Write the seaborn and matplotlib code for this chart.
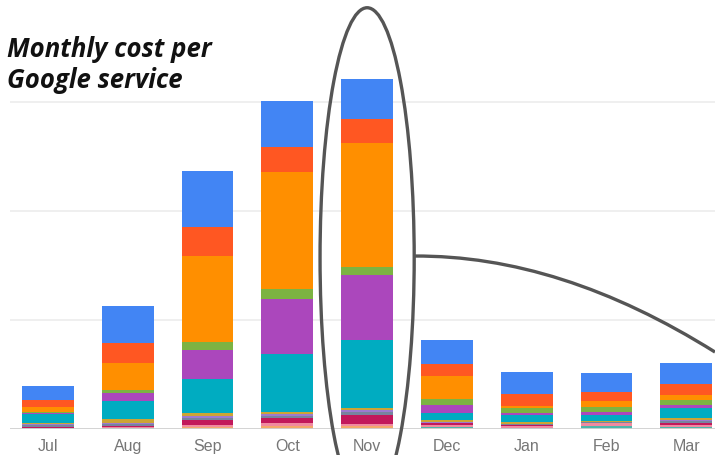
import matplotlib
matplotlib.use("Agg")
import matplotlib.pyplot as plt
import matplotlib.patches as mpatches
from matplotlib.path import Path as MPath
import pandas as pd
import seaborn as sns

months = ["Jul", "Aug", "Sep", "Oct", "Nov", "Dec", "Jan", "Feb", "Mar"]

# services listed top of stack -> bottom of stack
services = [
    "Maps", "Cloud SQL", "Compute Engine", "Cloud Storage", "BigQuery",
    "Cloud Run", "Pub/Sub", "Cloud Functions", "Networking", "Logging",
    "Firestore", "Secret Manager", "Other",
]
colors = [
    "#4285F4", "#FF5722", "#FF8F00", "#7CB342", "#AB47BC",
    "#00ACC1", "#CDA434", "#9C7BD0", "#78849E", "#C2185B",
    "#F08AA0", "#4DB6AC", "#F4A66A",
]

maps_cost = [13.1, 33.9, 51.4, 42.2, 36.7, 21.4, 20.5, 16.9, 19.8]
sql_cost = [6.7, 18.3, 26.9, 23.2, 21.5, 11.0, 10.7, 8.5, 9.8]
compute_cost = [4.6, 24.8, 78.9, 107.3, 114.3, 21.4, 2.4, 5.8, 4.3]
storage_cost = [0.9, 3.0, 7.1, 8.6, 7.3, 5.0, 4.6, 4.6, 4.6]
bigquery_cost = [0.9, 7.1, 26.9, 50.7, 59.4, 7.9, 1.6, 2.5, 3.1]
run_cost = [7.7, 16.8, 31.2, 53.5, 62.7, 6.1, 6.7, 5.5, 9.4]
pubsub_cost = [1.6, 3.1, 2.8, 1.6, 1.6, 1.6, 1.8, 1.2, 1.6]
functions_cost = [0.9, 1.4, 1.6, 1.8, 1.8, 1.5, 0.0, 0.0, 1.2]
network_cost = [1.4, 1.4, 1.6, 2.3, 2.8, 0.0, 0.9, 0.6, 1.6]
logging_cost = [0.9, 0.9, 5.2, 4.1, 8.3, 1.6, 0.6, 0.0, 1.6]
firestore_cost = [0.6, 0.9, 1.7, 2.8, 2.3, 1.6, 1.6, 3.1, 1.8]
secrets_cost = [0.5, 1.2, 0.0, 0.0, 0.0, 1.5, 1.2, 2.5, 1.2]
other_cost = [0.0, 0.0, 1.7, 2.8, 2.3, 0.6, 0.0, 0.0, 0.9]

series = [
    maps_cost, sql_cost, compute_cost, storage_cost, bigquery_cost,
    run_cost, pubsub_cost, functions_cost, network_cost, logging_cost,
    firestore_cost, secrets_cost, other_cost,
]

rows = []
for i, m in enumerate(months):
    for name, vals in zip(services, series):
        rows.append({"month": m, "service": name, "cost": vals[i]})
df = pd.DataFrame(rows)

sns.set_style("white")
fig = plt.figure(figsize=(7.15, 4.55), dpi=100)
ax = fig.add_axes([10 / 715, 26 / 455, 705 / 715, 429 / 455])

for g in [100, 200, 300]:
    ax.axhline(g, color="#ebebeb", lw=1.1, zorder=0)

sns.histplot(
    data=df, x="month", weights="cost", hue="service",
    hue_order=services, palette=dict(zip(services, colors)),
    multiple="stack", discrete=True, shrink=0.65,
    alpha=1, linewidth=0, legend=False, ax=ax,
)
ax.axhline(0, color="#d0d0d0", lw=1.3, zorder=3)

ax.set_xlim(-0.476, 8.36)
ax.set_ylim(0, 393.6)
ax.set_yticks([])
ax.set_xlabel("")
ax.set_ylabel("")
ax.tick_params(axis="x", length=0, pad=7, labelsize=11.5, labelcolor="#767676")
for lab in ax.get_xticklabels():
    lab.set_family(["Liberation Sans", "DejaVu Sans"])
sns.despine(ax=ax, left=True, bottom=True)

# callout around November
ell = mpatches.Ellipse((4, 157), 1.18, 459, fill=False, ec="#555555",
                       lw=2.4, clip_on=False, zorder=5)
ax.add_patch(ell)
curve = MPath([(4.59, 158.7), (6.42, 159.6), (8.36, 70.6)],
              [MPath.MOVETO, MPath.CURVE3, MPath.CURVE3])
ax.add_patch(mpatches.PathPatch(curve, fill=False, ec="#555555", lw=2.4,
                                clip_on=False, zorder=5))

fig.text(7 / 715, 1 - 36 / 455, "Monthly cost per\nGoogle service",
         ha="left", va="top", fontsize=18.5, fontweight="bold", style="italic",
         family=["Open Sans", "DejaVu Sans"], color="#111111", linespacing=1.2)

fig.savefig("out.png", dpi=100)
